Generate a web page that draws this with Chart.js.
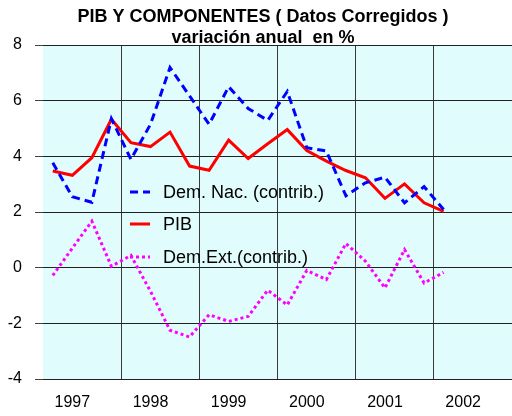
<!DOCTYPE html>
<html>
<head>
<meta charset="utf-8">
<script src="https://cdn.jsdelivr.net/npm/chart.js@4.4.0/dist/chart.umd.min.js"></script>
<style>
  body { margin: 0; background: #fff; }
  canvas { display: block; }
</style>
</head>
<body>
<canvas id="pib-chart" width="512" height="416"></canvas>
<script>
// años del eje (etiqueta en el 2º trimestre de cada año)
const years = ['1997', '1998', '1999', '2000', '2001', '2002'];
// variación anual en %, trimestral desde 1997-I hasta 2002-I
const demNac = [3.77, 2.55, 2.35, 5.35, 3.89, 5.15, 7.19, 6.17, 5.15, 6.5, 5.72, 5.29, 6.33, 4.31, 4.19, 2.58, 3.05, 3.25, 2.33, 2.91, 2.09];
const pib = [3.47, 3.32, 3.95, 5.33, 4.49, 4.35, 4.87, 3.65, 3.5, 4.58, 3.92, 4.45, 4.96, 4.21, 3.83, 3.49, 3.23, 2.49, 3.01, 2.33, 2.02];
const demExt = [-0.28, 0.7, 1.67, 0.05, 0.44, -0.85, -2.25, -2.49, -1.69, -1.93, -1.75, -0.81, -1.34, -0.1, -0.43, 0.87, 0.23, -0.73, 0.65, -0.55, -0.17];
const yTicks = [-4, -2, 0, 2, 4, 6, 8];

// una categoría por trimestre
const quarters = [];
years.forEach(y => { for (let q = 1; q <= 4; q++) quarters.push(y + '-' + q); });

const FONT = "'Liberation Sans', Arial, sans-serif";

const plotBg = {
  id: 'plotBg',
  beforeDraw(chart) {
    const { ctx, chartArea: a } = chart;
    ctx.save();
    ctx.fillStyle = '#e0fcfc';
    ctx.fillRect(a.left, a.top, a.right - a.left, a.bottom - a.top);
    ctx.restore();
  }
};

const titleAndLegend = {
  id: 'titleAndLegend',
  afterDraw(chart) {
    const ctx = chart.ctx;
    ctx.save();
    ctx.fillStyle = '#000';
    ctx.textAlign = 'center';
    ctx.textBaseline = 'middle';
    ctx.font = 'bold 18px ' + FONT;
    ctx.fillText('PIB Y COMPONENTES ( Datos Corregidos )', 263, 17);
    ctx.fillText('variación anual  en %', 263, 38);

    // leyenda dentro del área del gráfico
    const rows = [192, 224, 257];
    ctx.font = '18px ' + FONT;
    ctx.textAlign = 'left';
    chart.data.datasets.forEach((ds, i) => {
      const y = rows[i];
      ctx.beginPath();
      ctx.strokeStyle = ds.borderColor;
      ctx.lineWidth = ds.borderWidth;
      ctx.setLineDash(ds.borderDash || []);
      ctx.moveTo(130, y);
      ctx.lineTo(150, y);
      ctx.stroke();
      ctx.setLineDash([]);
      ctx.fillStyle = '#000';
      ctx.fillText(ds.label, 163, y + 1);
    });
    ctx.restore();
  }
};

new Chart(document.getElementById('pib-chart'), {
  type: 'line',
  data: {
    labels: quarters,
    datasets: [
      {
        label: 'Dem. Nac. (contrib.)',
        data: demNac,
        borderColor: '#0000ff',
        borderWidth: 3,
        borderDash: [8, 5],
        pointRadius: 0,
        tension: 0,
        fill: false
      },
      {
        label: 'PIB',
        data: pib,
        borderColor: '#ff0000',
        borderWidth: 3,
        pointRadius: 0,
        tension: 0,
        fill: false
      },
      {
        label: 'Dem.Ext.(contrib.)',
        data: demExt,
        borderColor: '#ff00ff',
        borderWidth: 3,
        borderDash: [3, 3],
        pointRadius: 0,
        tension: 0,
        fill: false
      }
    ]
  },
  options: {
    responsive: false,
    animation: false,
    devicePixelRatio: 1,
    layout: { padding: { top: 45, right: 0, bottom: 0, left: 0 } },
    plugins: {
      legend: { display: false },
      title: { display: false },
      tooltip: { enabled: false }
    },
    scales: {
      x: {
        offset: true,
        border: { display: false },
        grid: {
          offset: true,
          drawTicks: false,
          color: c => (c.index % 4 === 0 && c.index > 0 && c.index < quarters.length) ? '#3a3a3a' : 'transparent',
          lineWidth: 1
        },
        ticks: {
          autoSkip: false,
          maxRotation: 0,
          padding: 14,
          color: '#000',
          font: { family: FONT, size: 16 },
          callback: (v, i) => i % 4 === 1 ? years[Math.floor(i / 4)] : ''
        },
        afterFit: s => {
          s.height = 37;
          s.paddingLeft = 0;
          s.paddingRight = 0;
        }
      },
      y: {
        min: yTicks[0],
        max: yTicks[yTicks.length - 1],
        border: { display: false },
        grid: {
          color: '#222',
          lineWidth: 1,
          tickLength: 8,
          tickColor: '#444'
        },
        ticks: {
          stepSize: 2,
          padding: 13,
          color: '#000',
          font: { family: FONT, size: 16 }
        },
        afterFit: s => { s.width = 43; }
      }
    }
  },
  plugins: [plotBg, titleAndLegend]
});
</script>
</body>
</html>
